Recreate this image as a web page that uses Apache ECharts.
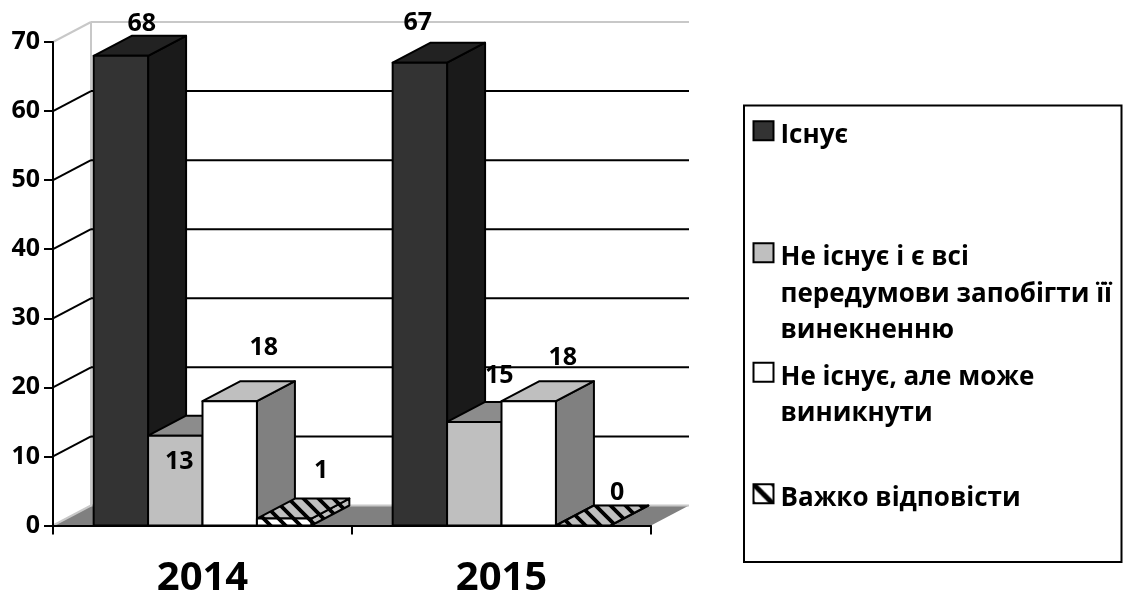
<!DOCTYPE html>
<html>
<head>
<meta charset="utf-8">
<style>
  html, body { margin: 0; background: #fff; }
  #chart { width: 1123px; height: 594px; }
</style>
<script src="https://cdn.jsdelivr.net/npm/echarts@6/dist/echarts.min.js"></script>
</head>
<body>
<div id="chart"></div>
<script>
const years = ["2014", "2015"];
const yTicks = [0, 10, 20, 30, 40, 50, 60, 70];
const exists = [68, 67];
const preventable = [13, 15];
const mayArise = [18, 18];
const hardToSay = [1, 0];

const seriesNames = [
  "Існує",
  "Не існує і є всі\nпередумови запобігти її\nвинекненню",
  "Не існує, але може\nвиникнути",
  "Важко відповісти",
];

const fontName = "Open Sans";
const DEPTH_X = 38;
const DEPTH_Y = 20;
const LINE = 2;

// hatch used on the 4th series, black stripes going down to the right
const hatch = (bg, size, width) => {
  const c = document.createElement("canvas");
  c.width = size;
  c.height = size;
  const ctx = c.getContext("2d");
  ctx.fillStyle = bg;
  ctx.fillRect(0, 0, size, size);
  ctx.strokeStyle = "#000";
  ctx.lineWidth = width;
  ctx.beginPath();
  ctx.moveTo(-size / 2, -size / 2); ctx.lineTo(size * 1.5, size * 1.5);
  ctx.moveTo(-size / 2, size / 2); ctx.lineTo(size / 2, size * 1.5);
  ctx.moveTo(size / 2, -size / 2); ctx.lineTo(size * 1.5, size / 2);
  ctx.stroke();
  return { image: c, repeat: "repeat" };
};

const barStyles = [
  { front: "#333333", top: "#222222", side: "#1a1a1a" },
  { front: "#bfbfbf", top: "#8c8c8c", side: "#808080" },
  { front: "#ffffff", top: "#bfbfbf", side: "#808080" },
  { front: hatch("#ffffff", 15, 3.8), top: hatch("#bfbfbf", 15, 3.8), side: hatch("#bfbfbf", 15, 3.8) },
];

// label nudges from the bar's top centre, [series][category]
const labelNudge = [
  [[21, -32], [-2, -40]],
  [[4, 26], [25, -46]],
  [[34, -53], [34, -43]],
  [[37, -48], [34, -33]],
];

const poly = (points, fill) => ({
  type: "polygon",
  shape: { points },
  style: { fill, stroke: "#000", lineWidth: LINE, lineJoin: "round" },
});

const barSeries = (name, values, idx) => ({
  name,
  type: "custom",
  coordinateSystem: "cartesian2d",
  z: 3 + idx,
  itemStyle: { color: barStyles[idx].front, borderColor: "#000", borderWidth: 1.5 },
  encode: { x: 0, y: 1 },
  data: values.map((v, i) => [i, v]),
  renderItem: (params, api) => {
    const band = api.size([1, 0])[0];
    const w = band * 0.182;
    const base = api.coord([api.value(0), 0]);
    const top = api.coord([api.value(0), api.value(1)]);
    const x0 = base[0] - 2 * w + idx * w;
    const x1 = x0 + w;
    const s = barStyles[idx];
    const children = [
      poly([[x1, base[1]], [x1 + DEPTH_X, base[1] - DEPTH_Y], [x1 + DEPTH_X, top[1] - DEPTH_Y], [x1, top[1]]], s.side),
      poly([[x0, top[1]], [x0 + DEPTH_X, top[1] - DEPTH_Y], [x1 + DEPTH_X, top[1] - DEPTH_Y], [x1, top[1]]], s.top),
    ];
    if (top[1] < base[1]) {
      children.push(poly([[x0, base[1]], [x1, base[1]], [x1, top[1]], [x0, top[1]]], s.front));
    }
    return { type: "group", children };
  },
});

// value labels go in their own series so no bar ever covers them
const labelSeries = [exists, preventable, mayArise, hardToSay].map((values, idx) => ({
  name: "labels" + idx,
  type: "custom",
  coordinateSystem: "cartesian2d",
  z: 10,
  silent: true,
  data: values.map((v, i) => [i, v]),
  encode: { x: 0, y: 1 },
  renderItem: (params, api) => {
    const band = api.size([1, 0])[0];
    const w = band * 0.182;
    const top = api.coord([api.value(0), api.value(1)]);
    const nudge = labelNudge[idx][api.value(0)];
    return {
      type: "text",
      style: {
        text: String(api.value(1)),
        x: top[0] - 2 * w + (idx + 0.5) * w + nudge[0],
        y: top[1] + nudge[1],
        align: "center",
        verticalAlign: "middle",
        font: "bold 25px '" + fontName + "'",
        fill: "#000",
      },
    };
  },
}));

const wallSeries = {
  name: "walls",
  type: "custom",
  coordinateSystem: "cartesian2d",
  z: 1,
  silent: true,
  data: yTicks.map((v) => [0, v]),
  encode: { x: 0, y: 1 },
  renderItem: (params, api) => {
    const sys = params.coordSys;
    const left = sys.x;
    const right = sys.x + sys.width;
    const y = api.coord([0, api.value(1)])[1];
    const v = api.value(1);
    const color = v === 0 || v === 70 ? "#c8c8c8" : "#000";
    const line = (x1, y1, x2, y2, stroke) => ({
      type: "line",
      shape: { x1, y1, x2, y2 },
      style: { stroke, lineWidth: LINE },
    });
    const children = [];
    if (v === 0) {
      children.push({
        type: "polygon",
        shape: { points: [[left, y], [left + DEPTH_X, y - DEPTH_Y], [right + DEPTH_X, y - DEPTH_Y], [right, y]] },
        style: { fill: "#808080" },
      });
      const topY = api.coord([0, 70])[1];
      children.push(line(left + DEPTH_X, y - DEPTH_Y, left + DEPTH_X, topY - DEPTH_Y, "#c8c8c8"));
    }
    children.push(line(left, y, left + DEPTH_X, y - DEPTH_Y, color));
    children.push(line(left + DEPTH_X, y - DEPTH_Y, right + DEPTH_X, y - DEPTH_Y, color));
    return { type: "group", children };
  },
};

// one legend per entry because the gaps in the box are not even.
// ECharts centres the swatch on the text block, so blank lines are put in
// front of the name to keep the swatch on the first line
const legendCenters = [131, 253, 372.5, 494];
const LEGEND_LINE = 36.5;
const legends = seriesNames.map((name, i) => {
  const n = name.split("\n").length;
  const entry = { name };
  if (i === 3) {
    entry.itemStyle = { color: hatch("#ffffff", 20, 5) };
  }
  return {
    left: 752.5,
    top: legendCenters[i] - (2 * n - 1) * LEGEND_LINE / 2,
    orient: "vertical",
    icon: "rect",
    itemWidth: 20,
    itemHeight: 19,
    itemGap: 0,
    selectedMode: false,
    padding: 0,
    data: [entry],
    formatter: (s) => {
      const lines = s.split("\n");
      const blanks = lines.slice(1).map(() => "{t| }");
      return blanks.concat(lines.map((l) => "{t|" + l + "}")).join("\n");
    },
    textStyle: {
      rich: {
        t: {
          color: "#000",
          fontFamily: fontName,
          fontWeight: "bold",
          fontSize: 26,
          lineHeight: LEGEND_LINE,
          padding: [10, 0, 0, 2],
        },
      },
    },
  };
});

const chart = echarts.init(document.getElementById("chart"), null, { renderer: "canvas" });
chart.setOption({
  animation: false,
  backgroundColor: "#fff",
  legend: legends,
  graphic: [
    {
      type: "rect",
      z: -1,
      shape: { x: 744, y: 105.5, width: 377.5, height: 456.5 },
      style: { fill: "#fff", stroke: "#000", lineWidth: 2 },
    },
  ],
  grid: { left: 53, right: 472, top: 42, bottom: 68.5, containLabel: false, outerBoundsMode: "none" },
  xAxis: {
    type: "category",
    data: years,
    z: 8,
    axisLine: { show: true, lineStyle: { color: "#000", width: LINE } },
    axisTick: { show: true, length: 9, lineStyle: { color: "#000", width: LINE } },
    splitLine: { show: false },
    axisLabel: { color: "#000", fontFamily: fontName, fontWeight: "bold", fontSize: 40, margin: 33 },
  },
  yAxis: {
    type: "value",
    min: 0,
    max: 70,
    interval: 10,
    z: 8,
    axisLine: { show: true, lineStyle: { color: "#000", width: LINE } },
    axisTick: { show: true, length: 9, lineStyle: { color: "#000", width: LINE } },
    splitLine: { show: false },
    axisLabel: { color: "#000", fontFamily: fontName, fontWeight: "bold", fontSize: 25, margin: 13 },
  },
  series: [
    wallSeries,
    barSeries(seriesNames[0], exists, 0),
    barSeries(seriesNames[1], preventable, 1),
    barSeries(seriesNames[2], mayArise, 2),
    barSeries(seriesNames[3], hardToSay, 3),
    ...labelSeries,
  ],
});
</script>
</body>
</html>
